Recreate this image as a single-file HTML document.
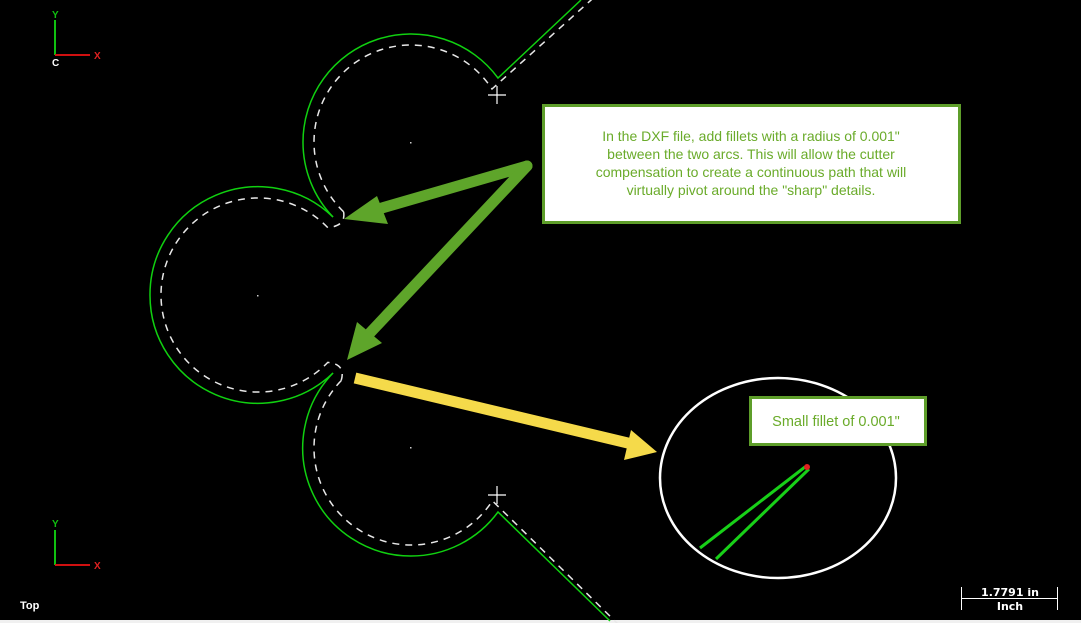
<!DOCTYPE html>
<html><head><style>
html,body{margin:0;padding:0;background:#000;}
body{width:1081px;height:623px;overflow:hidden;position:relative;}
svg{position:absolute;left:0;top:0;}
</style></head><body>
<svg width="1081" height="623" viewBox="0 0 1081 623" xmlns="http://www.w3.org/2000/svg">
<rect x="0" y="0" width="1081" height="623" fill="#000"/>
<rect x="0" y="620" width="1081" height="3" fill="#f0f0f0"/>
<!-- green profile -->
<g fill="none" stroke="#10d010" stroke-width="1.5">
<path d="M333,217 A108,108 0 0 1 303,142 A108,108 0 0 1 498,78 L581,0"/>
<path d="M333,217 A108,108 0 0 0 150,295 A108,108 0 0 0 333,373"/>
<path d="M333,373 A108,108 0 0 0 411,556 A108,108 0 0 0 498,512 L610,621"/>
</g>
<!-- dashed toolpath -->
<g fill="none" stroke="#e8e8e8" stroke-width="1.5" stroke-dasharray="7,6">
<path d="M343.6,211.8 A97,97 0 0 1 314,142 A97,97 0 0 1 411,45 A97,97 0 0 1 492,89 L600,-8"/>
<path d="M343.6,211.8 Q346,226 327.8,227.6 A97,97 0 0 0 161,295 A97,97 0 0 0 327.8,362.4 Q346,364 341.2,380.6"/>
<path d="M341.2,380.6 A97,97 0 0 0 314,448 A97,97 0 0 0 411,545 A97,97 0 0 0 492.4,500.8 L618,624"/>
</g>
<!-- centers & crosses -->
<rect x="410" y="142" width="1.5" height="1.5" fill="#ccc"/>
<rect x="257" y="295" width="1.5" height="1.5" fill="#ccc"/>
<rect x="410" y="447" width="1.5" height="1.5" fill="#ccc"/>
<g stroke="#fff" stroke-width="1.2">
<line x1="488" y1="95" x2="506" y2="95"/><line x1="497" y1="86" x2="497" y2="104"/>
<line x1="488" y1="495" x2="506" y2="495"/><line x1="497" y1="486" x2="497" y2="504"/>
</g>
<!-- green arrows -->
<g stroke="#5ea52a" stroke-width="11" stroke-linecap="round" fill="none">
<line x1="527" y1="166" x2="375" y2="210"/>
<line x1="527" y1="166" x2="368" y2="335"/>
</g>
<polygon points="344,219 377,196 388,224" fill="#5ea52a"/>
<polygon points="347,360 357,322 382,343" fill="#5ea52a"/>
<!-- yellow arrow -->
<line x1="355" y1="378" x2="632" y2="444" stroke="#f5da4a" stroke-width="11"/>
<polygon points="657,452 631,430 624,460" fill="#f5da4a"/>
<!-- ellipse -->
<ellipse cx="778" cy="478" rx="118" ry="100" fill="none" stroke="#fff" stroke-width="2.5"/>
<g stroke="#18d018" stroke-width="3">
<line x1="700" y1="548" x2="805" y2="467"/>
<line x1="716" y1="559" x2="809" y2="469"/>
</g>
<circle cx="807" cy="467" r="3" fill="#e02020"/>
<!-- callout boxes -->
<rect x="543.5" y="105.5" width="416" height="117" fill="#fff" stroke="#5e9e2a" stroke-width="3"/>
<g font-family="Liberation Sans, sans-serif" font-size="14" fill="#6aab2a" text-anchor="middle">
<text x="751" y="141">In the DXF file, add fillets with a radius of 0.001"</text>
<text x="751" y="159">between the two arcs.  This will allow the cutter</text>
<text x="751" y="177">compensation to create a continuous path that will</text>
<text x="751" y="195">virtually pivot around the "sharp" details.</text>
</g>
<rect x="750.5" y="397.5" width="175" height="47" fill="#fff" stroke="#5e9e2a" stroke-width="3"/>
<text x="836" y="426" font-family="Liberation Sans, sans-serif" font-size="14.5" fill="#6aab2a" text-anchor="middle">Small fillet of 0.001"</text>
<!-- axes -->
<g font-family="Liberation Sans, sans-serif" font-size="10" font-weight="bold">
<line x1="55" y1="20" x2="55" y2="55" stroke="#10c010" stroke-width="2"/>
<line x1="55" y1="55" x2="90" y2="55" stroke="#d01010" stroke-width="2"/>
<text x="52" y="18" fill="#10c010">Y</text><text x="94" y="59" fill="#e02020">X</text>
<text x="52" y="66" fill="#fff">C</text>
<line x1="55" y1="530" x2="55" y2="565" stroke="#10c010" stroke-width="2"/>
<line x1="55" y1="565" x2="90" y2="565" stroke="#d01010" stroke-width="2"/>
<text x="52" y="527" fill="#10c010">Y</text><text x="94" y="569" fill="#e02020">X</text>
<text x="20" y="609" fill="#fff" font-size="11">Top</text>
</g>
<!-- scale -->
<g stroke="#fff" stroke-width="1">
<line x1="961.5" y1="587" x2="961.5" y2="610"/>
<line x1="1057.5" y1="587" x2="1057.5" y2="610"/>
<line x1="961" y1="598.5" x2="1058" y2="598.5"/>
</g>
<g font-family="DejaVu Sans, sans-serif" font-size="11" font-weight="bold" fill="#fff" text-anchor="middle">
<text x="1010" y="596">1.7791 in</text>
<text x="1010" y="610">Inch</text>
</g>
</svg>
</body></html>
